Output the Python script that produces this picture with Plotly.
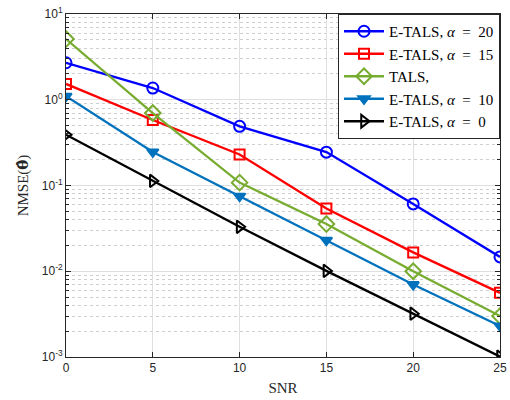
import plotly.graph_objects as go

snr = [0, 5, 10, 15, 20, 25]
etals20 = [2.7, 1.37, 0.49, 0.245, 0.061, 0.0147]
etals15 = [1.53, 0.58, 0.23, 0.054, 0.0166, 0.0056]
tals = [5.1, 0.70, 0.108, 0.0355, 0.0100, 0.0030]
etals10 = [1.1, 0.246, 0.075, 0.023, 0.0070, 0.0023]
etals0 = [0.39, 0.113, 0.033, 0.0101, 0.0032, 0.00101]

names = ["E-TALS, <i>α</i>\u2002=\u200220", "E-TALS, <i>α</i>\u2002=\u200215", "TALS,",
         "E-TALS, <i>α</i>\u2002=\u200210", "E-TALS, <i>α</i>\u2002=\u20020"]
series = [etals20, etals15, tals, etals10, etals0]
colors = ["#0000FF", "#FF0000", "#77AC30", "#0072BD", "#000000"]
symbols = ["circle-open", "square-open", "diamond-open", "triangle-down", "triangle-right-open"]
sizes = [11, 10, 12, 10, 11]

y_tickvals = [1e-3, 1e-2, 1e-1, 1, 10]
y_ticktext = ["10<sup>-3</sup>", "10<sup>-2</sup>", "10<sup>-1</sup>", "10<sup>0</sup>", "10<sup>1</sup>"]
x_tickvals = [0, 5, 10, 15, 20, 25]
y_minor = [m * d for d in y_tickvals[:-1] for m in range(2, 10)]

SERIF = "Liberation Serif"
SANS = "Liberation Sans"

fig = go.Figure()
for n, s, c, sym, sz in zip(names, series, colors, symbols, sizes):
    fig.add_trace(go.Scatter(
        x=snr, y=s, name=n, mode="lines+markers",
        line=dict(color=c, width=2.3),
        marker=dict(symbol=sym, size=sz, color=c, line=dict(color=c, width=2)),
    ))

axis_common = dict(
    showline=True, linecolor="#262626", linewidth=1, mirror="ticks",
    ticks="inside", ticklen=5, tickcolor="#262626",
    showgrid=True, gridcolor="#DFDFDF", gridwidth=1,
    zeroline=False, ticklabeloverflow="allow", automargin=False,
    tickfont=dict(family=SANS, size=12, color="#262626"),
)

fig.update_xaxes(
    **axis_common, range=[0, 25], tickvals=x_tickvals,
    title=dict(text="SNR", font=dict(family=SERIF, size=15, color="#262626"), standoff=8),
)
fig.update_yaxes(
    **axis_common, type="log", range=[-3, 1],
    tickvals=y_tickvals, ticktext=y_ticktext,
    minor=dict(tickmode="array", tickvals=y_minor, ticks="inside", ticklen=3,
               tickcolor="#262626", showgrid=True,
               gridcolor="#CFCFCF", griddash="dot", gridwidth=1),
    title=dict(text="NMSE(<b><span style=\"font-family:DejaVu Serif\">θ\u0302</span></b>)",
               font=dict(family=SERIF, size=15, color="#262626"), standoff=9),
)

fig.update_layout(
    width=510, height=400,
    margin=dict(l=66, r=10, t=14, b=43),
    plot_bgcolor="white", paper_bgcolor="white",
    legend=dict(
        x=1, y=1, xanchor="right", yanchor="top",
        bgcolor="white", bordercolor="#262626", borderwidth=1,
        font=dict(family=SERIF, size=15, color="#000000"),
        tracegroupgap=0, itemwidth=40,
    ),
    showlegend=True,
)

fig.write_html("out.html", config={"displayModeBar": False},
               post_script="document.body.style.margin='0';")
